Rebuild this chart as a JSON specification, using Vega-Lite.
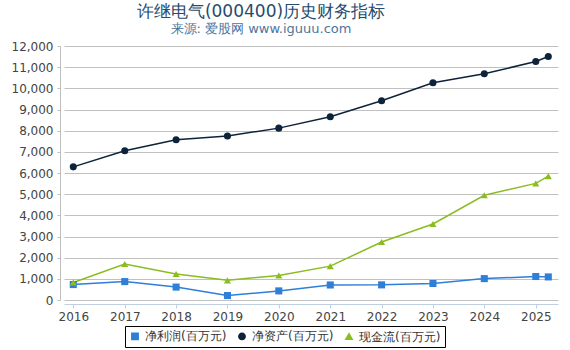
{
  "$schema": "https://vega.github.io/schema/vega-lite/v6.json",
  "width": 494,
  "height": 254,
  "autosize": {"type": "none"},
  "padding": {"left": 64, "top": 46, "right": 12, "bottom": 50},
  "background": "white",
  "title": {
    "text": "许继电气(000400)历史财务指标",
    "subtitle": "来源: 爱股网 www.iguuu.com",
    "anchor": "middle",
    "dx": -50,
    "offset": 3,
    "font": "DejaVu Sans",
    "subtitleFont": "DejaVu Sans",
    "fontSize": 17,
    "fontWeight": "normal",
    "subtitleFontSize": 13,
    "color": "#274b6d",
    "subtitleColor": "#4d759e",
    "subtitlePadding": 2
  },
  "config": {
    "font": "DejaVu Sans",
    "view": {"stroke": null}
  },
  "data": {
    "values": [
      {"date": "2016-01-01", "series": "净利润(百万元)", "value": 730},
      {"date": "2017-01-01", "series": "净利润(百万元)", "value": 870},
      {"date": "2018-01-01", "series": "净利润(百万元)", "value": 610},
      {"date": "2019-01-01", "series": "净利润(百万元)", "value": 210},
      {"date": "2020-01-01", "series": "净利润(百万元)", "value": 430},
      {"date": "2021-01-01", "series": "净利润(百万元)", "value": 710},
      {"date": "2022-01-01", "series": "净利润(百万元)", "value": 715},
      {"date": "2023-01-01", "series": "净利润(百万元)", "value": 780},
      {"date": "2024-01-01", "series": "净利润(百万元)", "value": 1010},
      {"date": "2025-01-01", "series": "净利润(百万元)", "value": 1110},
      {"date": "2025-03-31", "series": "净利润(百万元)", "value": 1090},
      {"date": "2016-01-01", "series": "净资产(百万元)", "value": 6290},
      {"date": "2017-01-01", "series": "净资产(百万元)", "value": 7055},
      {"date": "2018-01-01", "series": "净资产(百万元)", "value": 7570},
      {"date": "2019-01-01", "series": "净资产(百万元)", "value": 7750},
      {"date": "2020-01-01", "series": "净资产(百万元)", "value": 8120},
      {"date": "2021-01-01", "series": "净资产(百万元)", "value": 8660},
      {"date": "2022-01-01", "series": "净资产(百万元)", "value": 9410},
      {"date": "2023-01-01", "series": "净资产(百万元)", "value": 10260},
      {"date": "2024-01-01", "series": "净资产(百万元)", "value": 10685},
      {"date": "2025-01-01", "series": "净资产(百万元)", "value": 11270},
      {"date": "2025-03-31", "series": "净资产(百万元)", "value": 11505},
      {"date": "2016-01-01", "series": "现金流(百万元)", "value": 830},
      {"date": "2017-01-01", "series": "现金流(百万元)", "value": 1700},
      {"date": "2018-01-01", "series": "现金流(百万元)", "value": 1230},
      {"date": "2019-01-01", "series": "现金流(百万元)", "value": 930},
      {"date": "2020-01-01", "series": "现金流(百万元)", "value": 1160},
      {"date": "2021-01-01", "series": "现金流(百万元)", "value": 1600},
      {"date": "2022-01-01", "series": "现金流(百万元)", "value": 2740},
      {"date": "2023-01-01", "series": "现金流(百万元)", "value": 3590},
      {"date": "2024-01-01", "series": "现金流(百万元)", "value": 4950},
      {"date": "2025-01-01", "series": "现金流(百万元)", "value": 5510},
      {"date": "2025-03-31", "series": "现金流(百万元)", "value": 5850}
    ]
  },
  "encoding": {
    "x": {
      "field": "date",
      "type": "temporal",
      "title": null,
      "scale": {"domain": ["2015-10-27", "2025-06-08"]},
      "axis": {
        "format": "%Y",
        "tickCount": {"interval": "year", "step": 1},
        "offset": 4,
        "domainColor": "#c0d0e0",
        "tickColor": "#c0d0e0",
        "tickSize": 4,
        "grid": false,
        "labelFontSize": 12,
        "labelColor": "#444444",
        "labelPadding": 3,
        "labelFlush": false
      }
    },
    "y": {
      "field": "value",
      "type": "quantitative",
      "title": null,
      "scale": {"domain": [0, 12000], "nice": false},
      "axis": {
        "values": [0, 1000, 2000, 3000, 4000, 5000, 6000, 7000, 8000, 9000, 10000, 11000, 12000],
        "format": ",d",
        "offset": 4,
        "domainColor": "#c0c0c0",
        "tickColor": "#c0c0c0",
        "tickSize": 3,
        "gridColor": "#c0c0c0",
        "labelFontSize": 12,
        "labelColor": "#444444",
        "labelPadding": 4
      }
    },
    "color": {
      "field": "series",
      "type": "nominal",
      "scale": {
        "domain": ["净利润(百万元)", "净资产(百万元)", "现金流(百万元)"],
        "range": ["#2f7ed8", "#0d233a", "#8bbc21"]
      },
      "legend": {
        "orient": "none",
        "legendX": 61,
        "legendY": 280,
        "direction": "horizontal",
        "title": null,
        "strokeColor": "#000000",
        "padding": 4,
        "labelFontSize": 12,
        "labelColor": "#333333",
        "symbolSize": 40,
        "columnPadding": 8,
        "labelOffset": 4
      }
    }
  },
  "layer": [
    {
      "mark": {"type": "line", "strokeWidth": 1.5}
    },
    {
      "mark": {"type": "point", "filled": true, "opacity": 1},
      "encoding": {
        "shape": {
          "field": "series",
          "type": "nominal",
          "scale": {
            "domain": ["净利润(百万元)", "净资产(百万元)", "现金流(百万元)"],
            "range": ["square", "circle", "triangle-up"]
          }
        },
        "size": {"value": 50}
      }
    }
  ]
}
